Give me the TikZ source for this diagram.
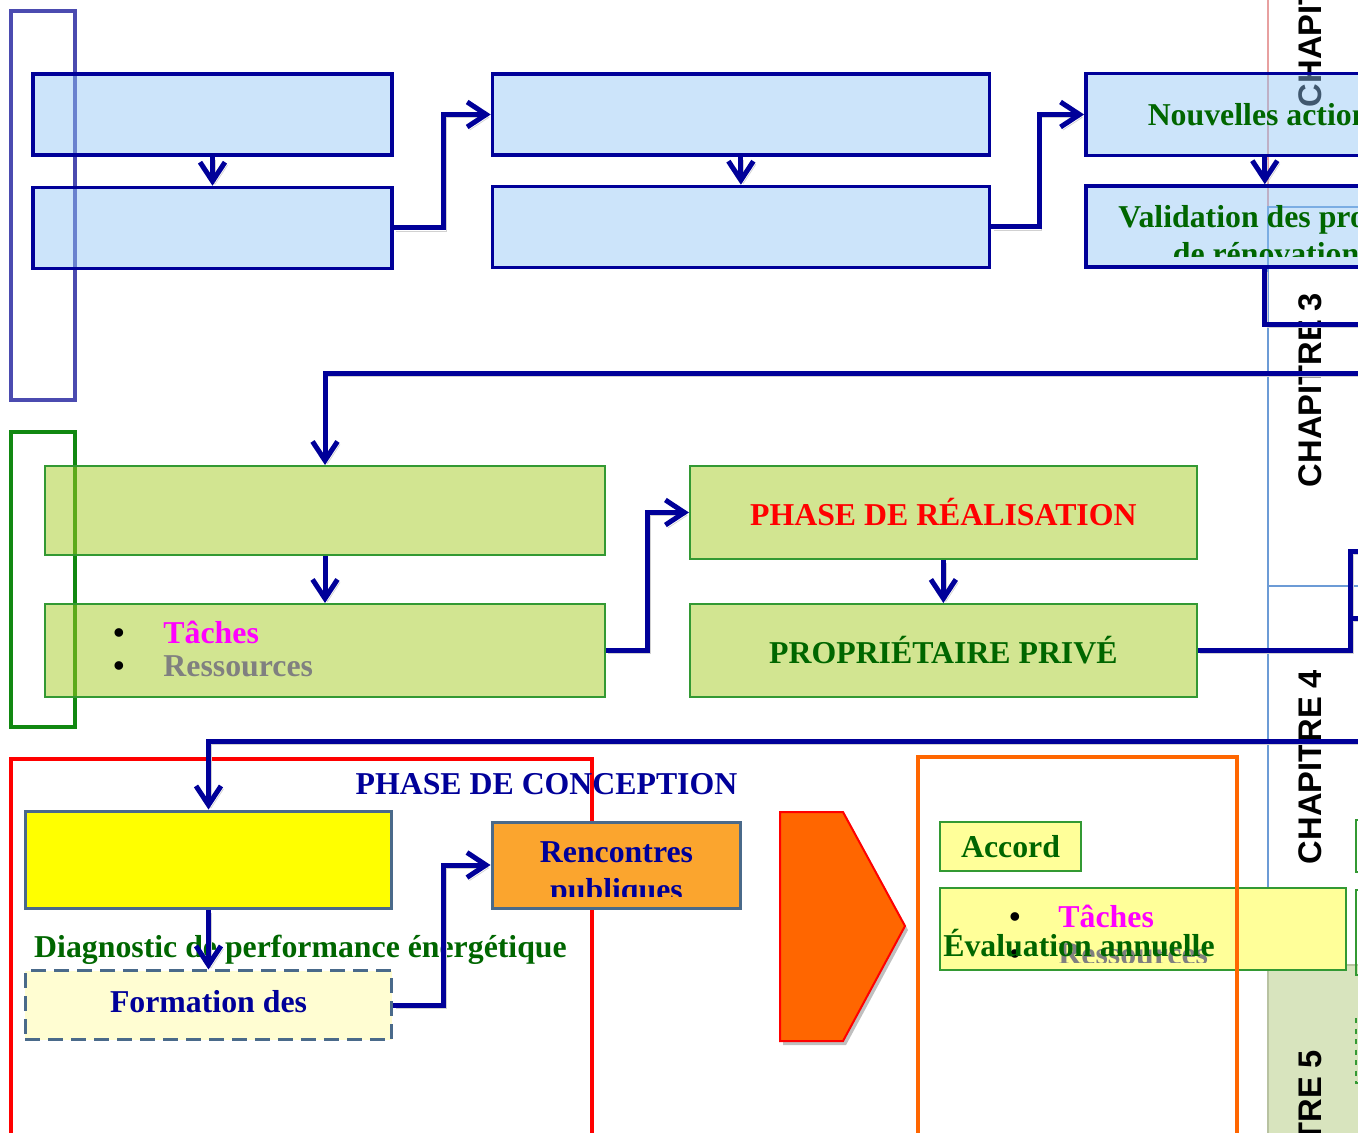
\documentclass[tikz,border=0pt]{standalone}
\usepackage{fontspec}
\setmainfont{Liberation Serif}
\newfontfamily\chapfont{Liberation Sans}
\usepackage{xcolor}
\usetikzlibrary{arrows.meta, positioning}
\definecolor{navyline}{RGB}{0, 0, 153}
\definecolor{bluefill}{RGB}{142, 195, 244}
\definecolor{greenfill}{RGB}{166, 204, 36}
\definecolor{greenedge}{RGB}{51, 153, 51}
\definecolor{darkgreen}{RGB}{0, 102, 0}
\definecolor{slateedge}{RGB}{74, 106, 138}
\definecolor{paleyellow}{RGB}{255, 255, 153}
\definecolor{brightyellow}{RGB}{255, 255, 0}
\definecolor{creamfill}{RGB}{255, 253, 210}
\definecolor{orangefill}{RGB}{251, 165, 46}
\definecolor{vividorange}{RGB}{255, 102, 0}
\definecolor{pinktext}{RGB}{255, 0, 255}
\definecolor{graytext}{RGB}{128, 128, 128}
\definecolor{redtext}{RGB}{255, 0, 0}
\definecolor{bracketblue}{RGB}{75, 75, 176}
\definecolor{bracketgreen}{RGB}{17, 136, 17}
\definecolor{chapblue}{RGB}{108, 155, 214}
\definecolor{chappink}{RGB}{232, 160, 160}
\definecolor{chapgreen}{RGB}{216, 228, 190}

\begin{document}
\begin{tikzpicture}[
      x=0.02cm, y=-0.02cm,
      lbl/.style={font=\bfseries\fontsize{18.1}{21}\selectfont, inner sep=0pt},
      chap/.style={font=\chapfont\bfseries\fontsize{18.6}{22}\selectfont,
                   rotate=90, inner sep=0pt},
      topbox/.style={draw=navyline, line width=0.07cm, fill=bluefill,
                     fill opacity=0.45, text opacity=1, inner sep=0pt,
                     minimum width=7.18cm, minimum height=1.62cm},
      midbox/.style={draw=greenedge, line width=0.04cm, fill=greenfill,
                     fill opacity=0.5, text opacity=1, inner sep=0pt,
                     minimum width=11.2cm, minimum height=1.78cm},
      slatebox/.style={draw=slateedge, line width=0.06cm, inner sep=0pt},
      accbox/.style={draw=greenedge, line width=0.04cm, fill=paleyellow,
                     inner sep=0pt},
      frame/.style={line width=0.08cm},
      chapcol/.style={draw=chapblue, line width=0.04cm},
      link/.style={draw=navyline, line width=0.1cm,
                   preaction={draw=black!18,
                              transform canvas={shift={(0.05cm,-0.06cm)}}}},
      arr/.style={link, -{Straight Barb[length=0.38cm, width=0.5cm]}}
    ]
    \useasboundingbox (0,0) rectangle (1358,1132);
    \clip (0,0) rectangle (1358,1132);

    % chapter columns on the right
    \draw[chappink, line width=0.04cm] (1268,-50) rectangle (1420,207);
    \draw[chapcol] (1268,207) rectangle (1420,586);
    \draw[chapcol] (1268,586) rectangle (1420,965);
    \draw[fill=chapgreen, draw=chapgreen!85!black, line width=0.04cm]
      (1268,965) rectangle (1420,1200);
    \node[chap] (ch2) at (1310,10) {CHAPITRE 2};
    \node[chap] (ch3) at (1310,390) {CHAPITRE 3};
    \node[chap] (ch4) at (1310,767) {CHAPITRE 4};
    \node[chap] (ch5) at (1310,1147) {CHAPITRE 5};

    % brackets on the left
    \draw[bracketblue, frame] (11,11) rectangle (75,400);
    \draw[bracketgreen, frame] (11,432) rectangle (75,727);

    % top row
    \node[topbox] (a1) at (212.5,114.5) {};
    \node[topbox, below=0.58cm of a1] (a2) {};
    \node[topbox, minimum width=9.94cm, right=1.94cm of a1] (b1) {};
    \node[topbox, minimum width=9.94cm, below=0.56cm of b1] (b2) {};
    \node[topbox, lbl, text=darkgreen, minimum width=7.16cm,
          minimum height=1.64cm, right=1.86cm of b1] (nouv) {Nouvelles actions};
    \node[topbox, minimum width=7.16cm, below=0.54cm of nouv] (valid) {};
    \begin{scope}
      \clip (1085,190) rectangle (1443,256);
      \node[lbl, text=darkgreen, anchor=base] (valid1) at (1266,227)
        {Validation des projets};
      \node[lbl, text=darkgreen, anchor=base] (valid2) at (1266,264)
        {de rénovation};
    \end{scope}

    % middle row
    \node[midbox] (g1) at (325,510.5) {};
    \node[midbox, minimum height=1.86cm, below=0.94cm of g1] (g2) {};
    \node[lbl, anchor=west, align=left,
          font=\bfseries\fontsize{18.1}{19.3}\selectfont] (g2list) at (113,649)
      {•\hspace{0.78cm}\textcolor{pinktext}{Tâches}\\
       •\hspace{0.78cm}\textcolor{graytext}{Ressources}};
    \node[midbox, lbl, text=redtext, minimum width=10.14cm, minimum height=1.86cm,
          right=1.66cm of g1, yshift=-0.04cm] (real) {PHASE DE RÉALISATION};
    \node[midbox, lbl, text=darkgreen, minimum width=10.14cm,
          minimum height=1.86cm, below=0.86cm of real] (prop)
      {PROPRIÉTAIRE PRIVÉ};

    % bottom left: conception
    \draw[redtext, frame] (11,759) rectangle (592,1200);
    \node[lbl, text=navyline, anchor=base] (concept) at (546.5,794)
      {PHASE DE CONCEPTION};
    \node[slatebox, fill=brightyellow, minimum width=7.34cm, minimum height=1.94cm]
      (diagbox) at (208.5,859.5) {};
    \node[slatebox, dashed, dash pattern=on 0.3cm off 0.16cm, fill=creamfill,
          minimum width=7.34cm, minimum height=1.38cm,
          below=1.2cm of diagbox] (form) {};
    \begin{scope}
      \clip (25,975) rectangle (392,1028);
      \node[lbl, text=navyline, anchor=base] (form1) at (208.5,1012)
        {Formation des};
    \end{scope}
    \node[slatebox, fill=orangefill, minimum width=4.98cm, minimum height=1.72cm]
      (renc) at (616.5,865) {};
    \begin{scope}
      \clip (494,826) rectangle (739,896);
      \node[lbl, text=navyline, anchor=base] (renc1) at (616.5,862) {Rencontres};
      \node[lbl, text=navyline, anchor=base] (renc2) at (616.5,900) {publiques};
    \end{scope}
    \node[lbl, text=darkgreen, anchor=base] (diag) at (300.5,957)
      {Diagnostic de performance énergétique};

    % chevron
    \draw[fill=vividorange, draw=redtext, line width=0.04cm,
          preaction={fill=black!25, transform canvas={shift={(0.06cm,-0.08cm)}}}]
      (780,812) -- (843,812) -- (905,926) -- (843,1041) -- (780,1041) -- cycle;

    % bottom right
    \node[accbox, lbl, text=darkgreen, minimum width=2.82cm, minimum height=0.98cm]
      (accord) at (1010.5,846.5) {Accord};
    \node[accbox, minimum width=8.12cm, minimum height=1.64cm]
      (eval) at (1143,929) {};
    \begin{scope}
      \clip (942,890) rectangle (1344,962);
      \node[lbl, anchor=west, align=left,
            font=\bfseries\fontsize{18.1}{21.5}\selectfont] (evallist) at (1009,935)
        {•\hspace{0.76cm}\textcolor{pinktext}{Tâches}\\
         •\hspace{0.76cm}\textcolor{graytext}{Ressources}};
    \end{scope}
    \node[lbl, text=darkgreen, anchor=base west] (evaltxt) at (943,956)
      {Évaluation annuelle};
    \draw[vividorange, frame] (918,757) rectangle (1237,1200);
    \draw[greenedge, line width=0.04cm] (1356,820) rectangle (1500,872);
    \draw[greenedge, line width=0.04cm] (1356,890) rectangle (1500,975);
    \draw[greenedge, line width=0.04cm, dashed] (1356,1018) rectangle (1500,1083);

    % connectors
    \coordinate (exit3) at (1420,324);
    \coordinate (entry3) at (1420,373);
    \coordinate (exit4) at (1420,551);
    \coordinate (exit4b) at (1420,618);
    \coordinate (entry4) at (1420,741);
    \draw[arr] (a1) -- (a2);
    \draw[arr] (a2.east) -- ++(50,0) |- (b1.west);
    \draw[arr] (b1) -- (b2);
    \draw[arr] (b2.east) -- ++(48,0) |- (nouv.west);
    \draw[arr] (nouv) -- (valid);
    \draw[link] (valid.south) |- (exit3);
    \draw[arr] (entry3) -| (g1.north);
    \draw[arr] (g1) -- (g2);
    \draw[arr] (g2.east) -- ++(42,0) |- (real.west);
    \draw[arr] (real) -- (prop);
    \draw[link] (prop.east) -- ++(153,0) coordinate (turn4) |- (exit4);
    \draw[link] (turn4 |- exit4b) -- (exit4b);
    \draw[arr] (entry4) -| (diagbox.north);
    \draw[arr] (diagbox) -- (form);
    \draw[arr] (form.east) -- ++(50,0) |- (renc.west);
  \end{tikzpicture}
\end{document}
